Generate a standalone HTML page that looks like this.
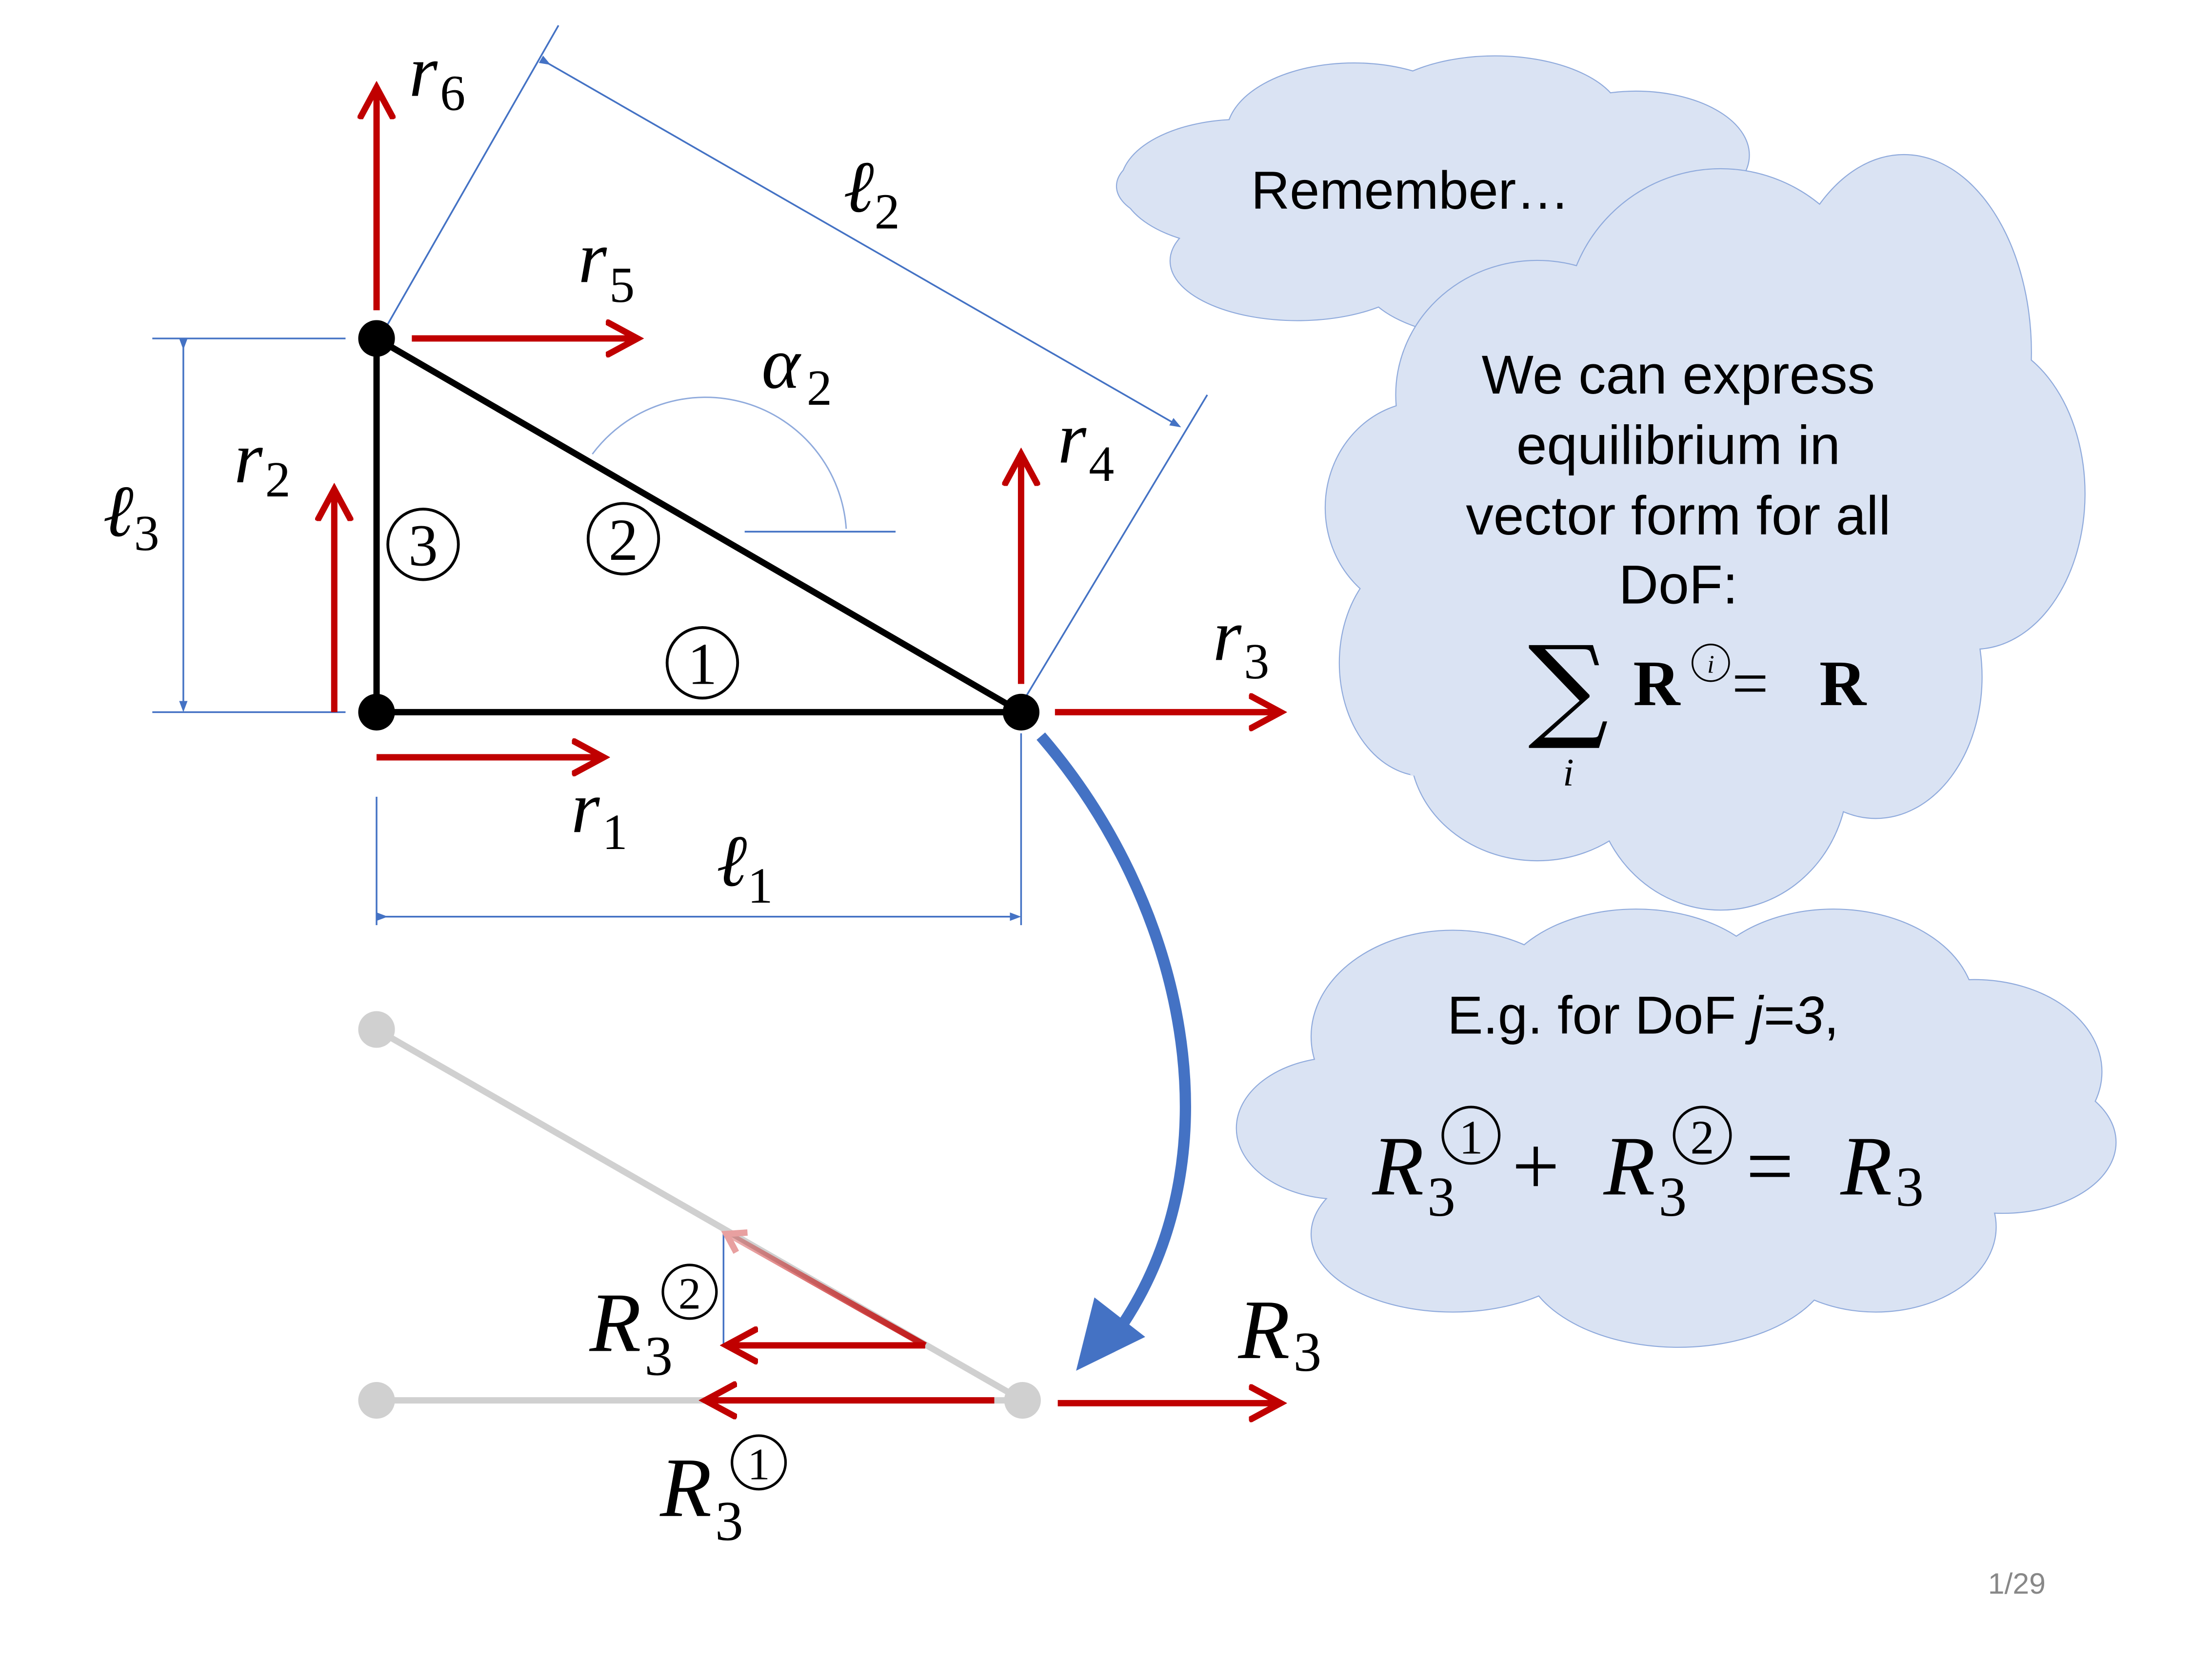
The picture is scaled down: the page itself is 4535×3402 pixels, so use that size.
<!DOCTYPE html>
<html><head><meta charset="utf-8"><style>
html,body{margin:0;padding:0;background:#fff;}
svg{display:block;}
.m{font-family:"Liberation Serif",serif;font-style:italic;fill:#000;}
.s{font-family:"Liberation Sans",sans-serif;fill:#000;}
</style></head><body>
<svg width="4535" height="3402" viewBox="0 0 1568.4 1176.4" preserveAspectRatio="none" xmlns="http://www.w3.org/2000/svg">
<defs>
<marker id="ar" markerWidth="6" markerHeight="6" refX="5" refY="3" orient="auto" markerUnits="strokeWidth"><path d="M0,0.3 L5,3 L0,5.7" fill="none" stroke="#c00000" stroke-width="1"/></marker>
<marker id="ab" markerWidth="8" markerHeight="8" refX="4" refY="4" orient="auto" markerUnits="userSpaceOnUse"><path d="M0,1 L8,4 L0,7 Z" fill="#4472c4"/></marker>
<linearGradient id="fade" x1="1" y1="1" x2="0" y2="0"><stop offset="0" stop-color="#c00000" stop-opacity="0.9"/><stop offset="1" stop-color="#c00000" stop-opacity="0.3"/></linearGradient>
</defs>
<rect width="1570" height="1180" fill="#fff"/>

<g fill="#dae3f3">
<g stroke="#8faadc" stroke-width="1.5">
<ellipse cx="880" cy="130" rx="85" ry="45"/><ellipse cx="960" cy="95" rx="90" ry="50"/><ellipse cx="1060" cy="85" rx="90" ry="45"/><ellipse cx="1160" cy="110" rx="80" ry="45"/><ellipse cx="1170" cy="175" rx="75" ry="45"/><ellipse cx="1060" cy="195" rx="95" ry="45"/><ellipse cx="920" cy="185" rx="90" ry="42"/><ellipse cx="850" cy="132" rx="58" ry="28"/></g>
<g><ellipse cx="880" cy="130" rx="85" ry="45"/><ellipse cx="960" cy="95" rx="90" ry="50"/><ellipse cx="1060" cy="85" rx="90" ry="45"/><ellipse cx="1160" cy="110" rx="80" ry="45"/><ellipse cx="1170" cy="175" rx="75" ry="45"/><ellipse cx="1060" cy="195" rx="95" ry="45"/><ellipse cx="920" cy="185" rx="90" ry="42"/><ellipse cx="850" cy="132" rx="58" ry="28"/><rect x="880" y="100" width="260" height="100"/></g>
</g>
<g fill="#dae3f3">
<g stroke="#8faadc" stroke-width="1.5">
<ellipse cx="1090" cy="280" rx="100" ry="95"/><ellipse cx="1220" cy="230" rx="110" ry="110"/><ellipse cx="1350" cy="250" rx="90" ry="140"/><ellipse cx="1400" cy="350" rx="78" ry="110"/><ellipse cx="1330" cy="480" rx="75" ry="100"/><ellipse cx="1220" cy="550" rx="90" ry="95"/><ellipse cx="1090" cy="530" rx="90" ry="80"/><ellipse cx="1010" cy="470" rx="60" ry="80"/><ellipse cx="1010" cy="360" rx="70" ry="75"/></g>
<g><ellipse cx="1090" cy="280" rx="100" ry="95"/><ellipse cx="1220" cy="230" rx="110" ry="110"/><ellipse cx="1350" cy="250" rx="90" ry="140"/><ellipse cx="1400" cy="350" rx="78" ry="110"/><ellipse cx="1330" cy="480" rx="75" ry="100"/><ellipse cx="1220" cy="550" rx="90" ry="95"/><ellipse cx="1090" cy="530" rx="90" ry="80"/><ellipse cx="1010" cy="470" rx="60" ry="80"/><ellipse cx="1010" cy="360" rx="70" ry="75"/><rect x="1000" y="250" width="380" height="300"/></g>
</g>
<g fill="#dae3f3">
<g stroke="#8faadc" stroke-width="1.5">
<ellipse cx="1030" cy="735" rx="100" ry="75"/><ellipse cx="1160" cy="710" rx="100" ry="65"/><ellipse cx="1300" cy="715" rx="100" ry="70"/><ellipse cx="1400" cy="760" rx="90" ry="65"/><ellipse cx="1420" cy="810" rx="80" ry="50"/><ellipse cx="1330" cy="870" rx="85" ry="60"/><ellipse cx="1190" cy="890" rx="110" ry="65"/><ellipse cx="1030" cy="875" rx="100" ry="55"/><ellipse cx="950" cy="800" rx="73" ry="50"/></g>
<g><ellipse cx="1030" cy="735" rx="100" ry="75"/><ellipse cx="1160" cy="710" rx="100" ry="65"/><ellipse cx="1300" cy="715" rx="100" ry="70"/><ellipse cx="1400" cy="760" rx="90" ry="65"/><ellipse cx="1420" cy="810" rx="80" ry="50"/><ellipse cx="1330" cy="870" rx="85" ry="60"/><ellipse cx="1190" cy="890" rx="110" ry="65"/><ellipse cx="1030" cy="875" rx="100" ry="55"/><ellipse cx="950" cy="800" rx="73" ry="50"/><rect x="960" y="730" width="450" height="140"/></g>
</g>

<text class="s" x="1000" y="148" font-size="38" text-anchor="middle">Remember…</text>
<g class="s" font-size="39" text-anchor="middle">
<text x="1190" y="279">We can express</text><text x="1190" y="329">equilibrium in</text><text x="1190" y="379">vector form for all</text><text x="1190" y="428">DoF:</text></g>
<g>
<text x="1112" y="515" font-family="DejaVu Serif,serif" font-size="80" text-anchor="middle">∑</text>
<text class="m" x="1112" y="557" font-size="28" text-anchor="middle">i</text>
<text x="1158" y="500" font-family="Liberation Serif,serif" font-weight="bold" font-size="46">R</text>
<circle cx="1213" cy="470" r="13" fill="none" stroke="#000" stroke-width="1.2"/>
<text class="m" x="1213" y="477" font-size="18" text-anchor="middle">i</text>
<text x="1228" y="500" font-family="Liberation Serif,serif" font-size="46">=</text>
<text x="1290" y="500" font-family="Liberation Serif,serif" font-weight="bold" font-size="46">R</text>
</g>
<text class="s" x="1165" y="733" font-size="38" text-anchor="middle">E.g. for DoF <tspan font-style="italic">j=3</tspan>,</text>
<g font-family="Liberation Serif,serif" font-size="60">
<text class="m" x="973" y="847">R</text><text x="1012" y="862" font-size="40">3</text>
<circle cx="1043" cy="805" r="20" fill="none" stroke="#000" stroke-width="1.8"/><text x="1043" y="818" font-size="34" text-anchor="middle">1</text>
<text x="1072" y="847">+</text>
<text class="m" x="1137" y="847">R</text><text x="1176" y="862" font-size="40">3</text>
<circle cx="1207" cy="805" r="20" fill="none" stroke="#000" stroke-width="1.8"/><text x="1207" y="818" font-size="34" text-anchor="middle">2</text>
<text x="1238" y="847">=</text>
<text class="m" x="1305" y="847">R</text><text x="1344" y="855" font-size="40">3</text>
</g>

<g stroke="#4472c4" stroke-width="1.2" fill="none">
<line x1="108" y1="240" x2="245" y2="240"/><line x1="108" y1="505" x2="245" y2="505"/>
<line x1="130" y1="244" x2="130" y2="501" marker-start="url(#ab)" marker-end="url(#ab)"/>
<line x1="267" y1="565" x2="267" y2="656"/><line x1="724" y1="520" x2="724" y2="656"/>
<line x1="271" y1="650" x2="720" y2="650" marker-start="url(#ab)" marker-end="url(#ab)"/>
<line x1="272" y1="235" x2="396" y2="18"/><line x1="728" y1="493" x2="856" y2="280"/>
<line x1="387" y1="44" x2="834" y2="301" marker-start="url(#ab)" marker-end="url(#ab)"/>
<path d="M420,322 A100,100 0 0 1 600,375" stroke-width="1" stroke="#8faadc"/>
<line x1="528" y1="377" x2="635" y2="377"/>
<line x1="513" y1="872" x2="513" y2="954"/>
</g>

<g stroke="#000" stroke-width="4.5">
<line x1="267" y1="240" x2="267" y2="505"/><line x1="267" y1="505" x2="724" y2="505"/><line x1="267" y1="240" x2="724" y2="505"/></g>
<g fill="#000"><circle cx="267" cy="240" r="13"/><circle cx="267" cy="505" r="13"/><circle cx="724" cy="505" r="13"/></g>

<g stroke="#c00000" stroke-width="4.5" fill="none">
<line x1="267" y1="220" x2="267" y2="62" marker-end="url(#ar)"/>
<line x1="292" y1="240" x2="452" y2="240" marker-end="url(#ar)"/>
<line x1="237" y1="505" x2="237" y2="347" marker-end="url(#ar)"/>
<line x1="724" y1="485" x2="724" y2="322" marker-end="url(#ar)"/>
<line x1="748" y1="505" x2="908" y2="505" marker-end="url(#ar)"/>
<line x1="267" y1="537" x2="428" y2="537" marker-end="url(#ar)"/>
</g>

<g font-family="Liberation Serif,serif">
<text class="m" x="290" y="68" font-size="52">r</text><text x="312" y="78" font-size="36">6</text>
<text class="m" x="410" y="200" font-size="52">r</text><text x="432" y="214" font-size="36">5</text>
<text class="m" x="166" y="342" font-size="52">r</text><text x="188" y="352" font-size="36">2</text>
<text class="m" x="750" y="328" font-size="52">r</text><text x="772" y="341" font-size="36">4</text>
<text class="m" x="860" y="468" font-size="52">r</text><text x="882" y="481" font-size="36">3</text>
<text class="m" x="405" y="590" font-size="52">r</text><text x="427" y="602" font-size="36">1</text>
<text class="m" x="598" y="150" font-size="52">ℓ</text><text x="620" y="162" font-size="36">2</text>
<text class="m" x="540" y="275" font-size="52">α</text><text x="572" y="287" font-size="36">2</text>
<text class="m" x="73" y="380" font-size="52">ℓ</text><text x="95" y="390" font-size="36">3</text>
<text class="m" x="508" y="628" font-size="52">ℓ</text><text x="530" y="640" font-size="36">1</text>
<circle cx="300" cy="386" r="25" fill="none" stroke="#000" stroke-width="2"/><text x="300" y="401" font-size="42" text-anchor="middle">3</text>
<circle cx="442" cy="382" r="25" fill="none" stroke="#000" stroke-width="2"/><text x="442" y="397" font-size="42" text-anchor="middle">2</text>
<circle cx="498" cy="470" r="25" fill="none" stroke="#000" stroke-width="2"/><text x="498" y="485" font-size="42" text-anchor="middle">1</text>
</g>

<g>
<g stroke="#d0d0d0" stroke-width="4.5"><line x1="267" y1="730" x2="725" y2="993"/><line x1="267" y1="993" x2="725" y2="993"/></g>
<g fill="#d0d0d0"><circle cx="267" cy="730" r="13"/><circle cx="267" cy="993" r="13"/><circle cx="725" cy="993" r="13"/></g>
<line x1="656" y1="954" x2="518" y2="876" stroke="url(#fade)" stroke-width="4.5"/>
<path d="M530,874 L515,875 L522,888" fill="none" stroke="#e8a0a0" stroke-width="4.5"/>
<g stroke="#c00000" stroke-width="4.5" fill="none">
<line x1="656" y1="954" x2="515" y2="954" marker-end="url(#ar)"/>
<line x1="705" y1="993" x2="500" y2="993" marker-end="url(#ar)"/>
<line x1="750" y1="995" x2="908" y2="995" marker-end="url(#ar)"/>
</g>
<g font-family="Liberation Serif,serif">
<text class="m" x="418" y="958" font-size="60">R</text><text x="457" y="975" font-size="40">3</text>
<circle cx="489" cy="916" r="19" fill="none" stroke="#000" stroke-width="1.8"/><text x="489" y="928" font-size="32" text-anchor="middle">2</text>
<text class="m" x="468" y="1075" font-size="60">R</text><text x="507" y="1092" font-size="40">3</text>
<circle cx="538" cy="1037" r="19" fill="none" stroke="#000" stroke-width="1.8"/><text x="538" y="1049" font-size="32" text-anchor="middle">1</text>
<text class="m" x="878" y="963" font-size="60">R</text><text x="917" y="972" font-size="40">3</text>
</g>
</g>

<path d="M738,522 C840,640 880,820 792,945" fill="none" stroke="#4472c4" stroke-width="8"/>
<path d="M763,972 L776,920 L812,948 Z" fill="#4472c4"/>

<text class="s" x="1430" y="1130" font-size="21" text-anchor="middle" style="fill:#888">1/29</text>
</svg>
</body></html>
